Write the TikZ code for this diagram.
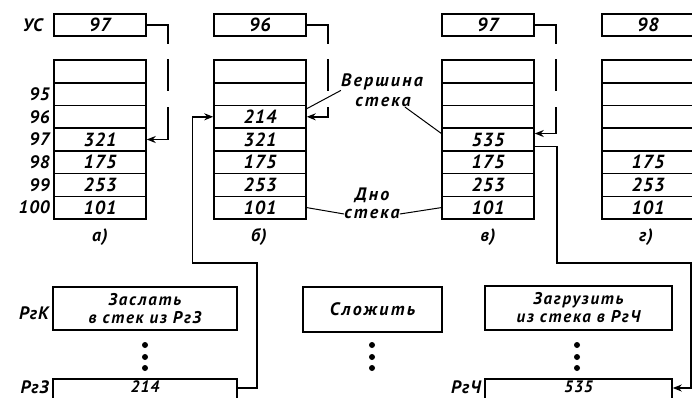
\documentclass[tikz,border=0pt]{standalone}
\usepackage{fontspec}
\setmainfont{PT Sans}[LetterSpace=5]
\usetikzlibrary{arrows.meta,calc}

\begin{document}
\begin{tikzpicture}[x=1pt, y=-1pt,
  cell/.style={draw, line width=1.5pt, minimum width=92pt, minimum height=22.7pt, inner sep=0pt, font=\bfseries\itshape\fontsize{19}{19}\selectfont},
  reg/.style={cell, minimum height=22pt},
  cmd/.style={draw, line width=1.5pt, inner sep=0pt, align=center, font=\bfseries\itshape\fontsize{17}{18}\selectfont\addfontfeature{LetterSpace=10}},
  lbl/.style={font=\bfseries\itshape\fontsize{18}{18}\selectfont, inner sep=1pt},
  word/.style={font=\bfseries\itshape\fontsize{18}{18}\selectfont\addfontfeature{LetterSpace=12}, inner sep=0pt},
  addr/.style={lbl, anchor=east},
  dot/.style={circle, fill, inner sep=0pt, minimum size=6pt},
  ptr/.style={line width=1.5pt, dash pattern=on 40pt off 15pt on 32pt off 16pt on 90pt, -{Stealth[length=9pt,width=7pt]}},
  link/.style={line width=1.5pt, -{Stealth[length=9pt,width=7pt]}},
  lead/.style={line width=1pt}
]
\useasboundingbox (0,0) rectangle (692,397);
\clip (0,0) rectangle (692,397);

% registers of the stack pointer
\node[reg] (usa) at (100,25) {97};
\node[reg] (usb) at (260,25) {96};
\node[reg] (usc) at (488,25) {97};
\node[reg] (usd) at (648,25) {98};
\node[addr] (lus) at (44,25) {УС};

% stack a
\node[cell] (a1) at (100,71.4) {};
\node[cell] (a2) at (100,94.1) {};
\node[cell] (a3) at (100,116.8) {};
\node[cell] (a4) at (100,139.5) {321};
\node[cell] (a5) at (100,162.2) {175};
\node[cell] (a6) at (100,184.9) {253};
\node[cell] (a7) at (100,207.6) {101};
\node[addr] (n95) at (51,94.1) {95};
\node[addr] (n96) at (51,116.8) {96};
\node[addr] (n97) at (51,139.5) {97};
\node[addr] (n98) at (51,162.2) {98};
\node[addr] (n99) at (51,184.9) {99};
\node[addr] (n100) at (51,207.6) {100};

% stack b
\node[cell] (b1) at (260,71.4) {};
\node[cell] (b2) at (260,94.1) {};
\node[cell] (b3) at (260,116.8) {214};
\node[cell] (b4) at (260,139.5) {321};
\node[cell] (b5) at (260,162.2) {175};
\node[cell] (b6) at (260,184.9) {253};
\node[cell] (b7) at (260,207.6) {101};

% stack c
\node[cell] (c1) at (488,71.4) {};
\node[cell] (c2) at (488,94.1) {};
\node[cell] (c3) at (488,116.8) {};
\node[cell] (c4) at (488,139.5) {535};
\node[cell] (c5) at (488,162.2) {175};
\node[cell] (c6) at (488,184.9) {253};
\node[cell] (c7) at (488,207.6) {101};

% stack d
\node[cell] (d1) at (648,71.4) {};
\node[cell] (d2) at (648,94.1) {};
\node[cell] (d3) at (648,116.8) {};
\node[cell] (d4) at (648,139.5) {};
\node[cell] (d5) at (648,162.2) {175};
\node[cell] (d6) at (648,184.9) {253};
\node[cell] (d7) at (648,207.6) {101};

\node[lbl] (capa) at (100,237) {а)};
\node[lbl] (capb) at (259,237) {б)};
\node[lbl] (capc) at (488,237) {в)};
\node[lbl] (capd) at (646,237) {г)};

\node[word] (topw1) at (382,82) {Вершина};
\node[word] (topw2) at (383,102) {стека};
\node[word] (botw1) at (372,195) {Дно};
\node[word] (botw2) at (372,214) {стека};

% program and registers
\node[cmd, minimum width=184pt, minimum height=43pt] (cmdk) at (145,308.5) {Заслать\\в стек из РгЗ};
\node[cmd, minimum width=139pt, minimum height=45pt, font=\bfseries\itshape\fontsize{18}{18}\selectfont\addfontfeature{LetterSpace=12}] (cmdadd) at (372.5,309.5) {Сложить};
\node[cmd, minimum width=187pt, minimum height=44pt] (cmdload) at (578.5,308) {Загрузить\\из\ стека\ в\ РгЧ};
\node[reg, minimum width=184pt, minimum height=20pt, text depth=5pt, font=\bfseries\itshape\fontsize{16.5}{16.5}\selectfont] (rgz) at (145,389) {214};
\node[reg, minimum width=187pt, minimum height=20pt, text depth=5pt, font=\bfseries\itshape\fontsize{16.5}{16.5}\selectfont] (rgch) at (578.5,389) {535};
\node[addr] (lrgk) at (50,313) {РгК};
\node[addr] (lrgz) at (50,387) {РгЗ};
\node[addr] (lrgch) at (482,387) {РгЧ};

\node[dot] (dk1) at (145,345) {};
\node[dot] (dk2) at (145,357) {};
\node[dot] (dk3) at (145,368) {};
\node[dot] (da1) at (372,345) {};
\node[dot] (da2) at (372,357) {};
\node[dot] (da3) at (372,368) {};
\node[dot] (dl1) at (577,345) {};
\node[dot] (dl2) at (577,357) {};
\node[dot] (dl3) at (577,368) {};

% pointers
\draw[ptr] (usa.east) -- ++(21,0) |- (a4.east);
\draw[ptr] (usb.east) -- ++(21,0) |- (b3.east);
\draw[ptr] (usc.east) -- ++(21,0) |- ($(c4.east)+(0,-6)$);

\coordinate (jz) at (257,263);
\coordinate (jc) at (557,263);
\draw[link] ($(rgz.east)+(0,-1)$) -| (jz) -| ($(b3.west)+(-21,0)$) -- (b3.west);
\draw[link] ($(c4.east)+(0,7)$) -| (jc) -| ($(rgch.east)+(18,-1)$) -- ($(rgch.east)+(0,-1)$);

\draw[lead] (topw1.south west) -- ($(b3.north east)+(0,4)$);
\draw[lead] ($(topw2.south east)+(-6,0)$) -- ($(c4.north west)+(0,6)$);
\draw[lead] (b7.east) -- (botw2.west);
\draw[lead] (botw2.east) -- (c7.west);

\end{tikzpicture}
\end{document}
